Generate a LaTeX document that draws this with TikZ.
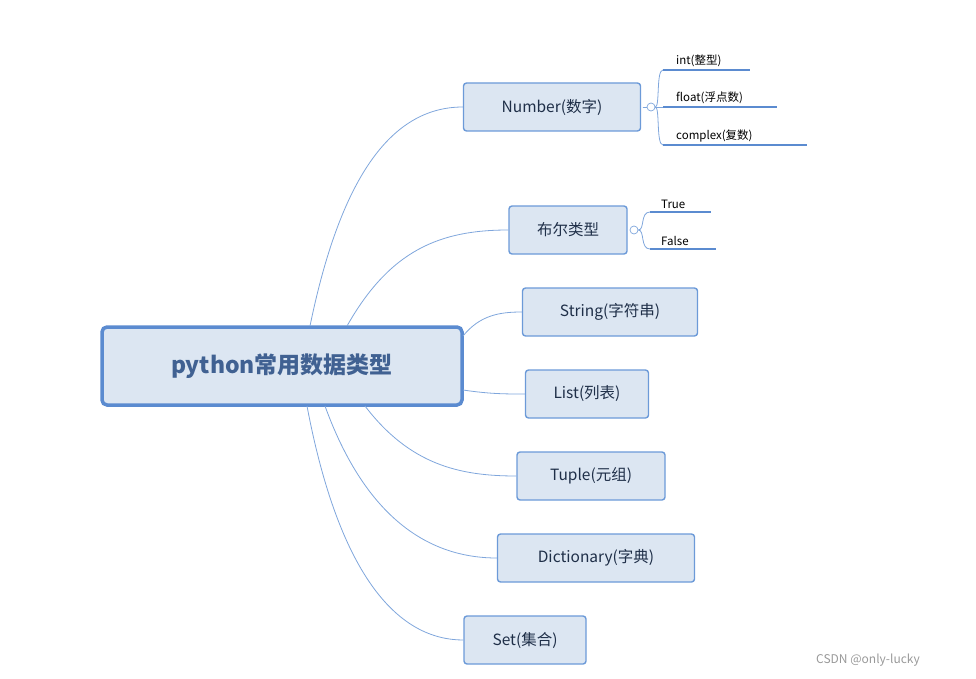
\documentclass[tikz,border=0pt]{standalone}
\usepackage{fontspec}
\setmainfont{Noto Sans CJK SC}
\begin{document}
\begin{tikzpicture}[x=1pt,y=-1pt,
  leaf/.style={draw=boxb,fill=boxf,line width=1.4pt,rounded corners=3pt,inner sep=0pt,font=\fontsize{15.5}{18}\selectfont,text=txt},
  conn/.style={draw=lnk,line width=0.8pt},
  sub/.style={draw=subl,line width=2pt},
  subt/.style={anchor=south west,inner sep=1pt,font=\fontsize{11.5}{13}\selectfont}]
\definecolor{boxf}{HTML}{DCE6F2}
\definecolor{boxb}{HTML}{6C9AD8}
\definecolor{rootb}{HTML}{5B8BD0}
\definecolor{txt}{HTML}{1F2F48}
\definecolor{lnk}{HTML}{7FA6DC}
\definecolor{subl}{HTML}{5B8BD0}
\useasboundingbox (0,0) rectangle (976,679);
\node[draw=rootb,fill=boxf,line width=3.5pt,rounded corners=5pt,minimum width=360pt,minimum height=78pt,font=\bfseries\fontsize{23}{26}\selectfont,text=rootb!70!black] (root) at (282,366) {python常用数据类型};
\node[leaf,minimum width=177pt,minimum height=48pt] (num) at (552,107) {Number(数字)};
\node[leaf,minimum width=118pt,minimum height=48pt] (bool) at (568,230) {布尔类型};
\node[leaf,minimum width=175pt,minimum height=48pt] (str) at (610,312) {String(字符串)};
\node[leaf,minimum width=123pt,minimum height=48pt] (lst) at (587,394) {List(列表)};
\node[leaf,minimum width=148pt,minimum height=48pt] (tup) at (591,476) {Tuple(元组)};
\node[leaf,minimum width=197pt,minimum height=48pt] (dic) at (596,558) {Dictionary(字典)};
\node[leaf,minimum width=122pt,minimum height=48pt] (set) at (525,640) {Set(集合)};
\coordinate (r1) at (310,326); \coordinate (r2) at (347,326);
\coordinate (r3) at (463,336); \coordinate (r4) at (463,390);
\coordinate (r5) at (365,406); \coordinate (r6) at (325,406); \coordinate (r7) at (307,406);
\draw[conn] (r1) .. controls (340,180) and (390,107) .. (num.west);
\draw[conn] (r2) .. controls (390,250) and (440,230) .. (bool.west);
\draw[conn] (r3) .. controls (480,315) and (500,312) .. (str.west);
\draw[conn] (r4) .. controls (490,394) and (505,394) .. (lst.west);
\draw[conn] (r5) .. controls (410,465) and (460,476) .. (tup.west);
\draw[conn] (r6) .. controls (370,530) and (440,558) .. (dic.west);
\draw[conn] (r7) .. controls (340,580) and (400,640) .. (set.west);
% Number sub-branches
\node[circle,draw=lnk,fill=white,line width=0.7pt,minimum size=8pt,inner sep=0pt] (c1) at (651,107) {};
\draw[lnk,line width=0.6pt] (c1.west) ++(-4,0) -- (c1.west);
\draw[lnk,line width=0.6pt] (c1.west) ++(-4,0) -- (c1.west);
\coordinate (n1) at (663,70); \coordinate (n2) at (663,107); \coordinate (n3) at (663,145);
\draw[conn] (c1.east) .. controls (660,107) and (656,70) .. (n1);
\draw[conn] (c1.east) -- (n2);
\draw[conn] (c1.east) .. controls (660,107) and (656,145) .. (n3);
\coordinate (e1) at (750,70); \coordinate (e2) at (777,107); \coordinate (e3) at (807,145);
\draw[sub] (n1) -- (e1); \draw[sub] (n2) -- (e2); \draw[sub] (n3) -- (e3);
\node[subt] (t1) at (675,68) {int(整型)};
\node[subt] (t2) at (675,105) {float(浮点数)};
\node[subt] (t3) at (675,143) {complex(复数)};
% Bool
\node[circle,draw=lnk,fill=white,line width=0.7pt,minimum size=8pt,inner sep=0pt] (c2) at (634,230) {};
\coordinate (b1) at (650,212); \coordinate (b2) at (650,249);
\draw[conn] (c2.east) .. controls (645,230) and (640,212) .. (b1);
\draw[conn] (c2.east) .. controls (645,230) and (640,249) .. (b2);
\coordinate (f1) at (711,212); \coordinate (f2) at (716,249);
\draw[sub] (b1) -- (f1); \draw[sub] (b2) -- (f2);
\node[subt] (tt) at (660,210) {True};
\node[subt] (tf) at (660,247) {False};
\node[anchor=center,text=gray!80,font=\fontsize{12}{14}\selectfont] (wm) at (868,660) {CSDN @only-lucky};
\end{tikzpicture}
\end{document}
